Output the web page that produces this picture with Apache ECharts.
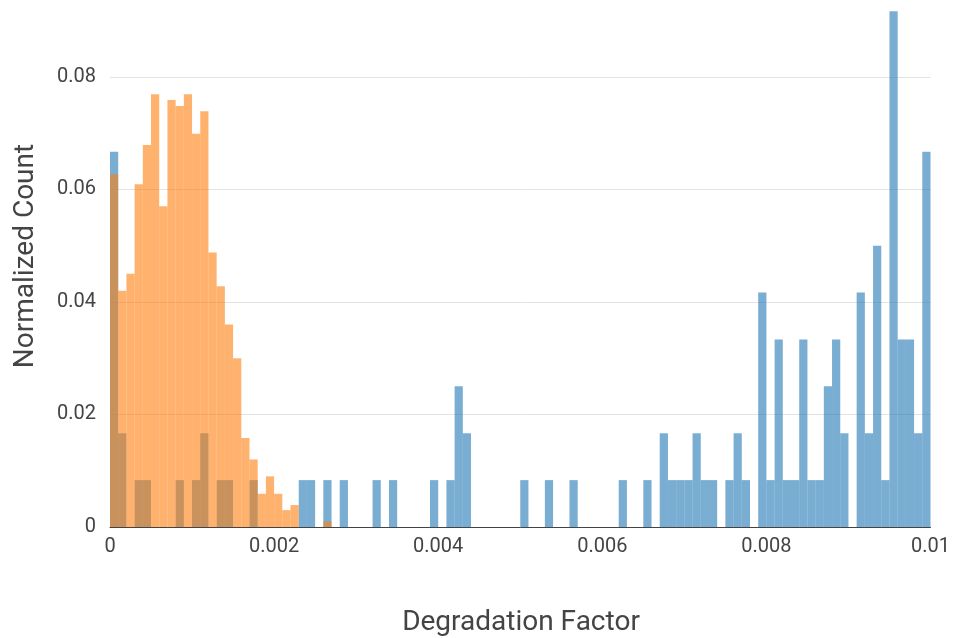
<!DOCTYPE html>
<html>
<head>
<meta charset="utf-8">
<script src="https://cdn.jsdelivr.net/npm/echarts@6/dist/echarts.min.js"></script>
<style>
html,body{margin:0;padding:0;background:#fff;}
#chart{width:953px;height:638px;}
</style>
</head>
<body>
<div id="chart"></div>
<script>
// Bin width 0.0001 over [0, 0.01] -> 100 bins
const binCount = 100;
const binStarts = Array.from({length: binCount}, (_, i) => (i * 0.0001).toFixed(4));

// Blue series (normalized counts per bin)
const blueValues = [
  0.06667, 0.01667, 0, 0.00833, 0.00833, 0, 0, 0, 0.00833, 0,
  0.00833, 0.01667, 0, 0.00833, 0.00833, 0, 0, 0.00833, 0, 0,
  0, 0, 0, 0.00833, 0.00833, 0, 0.00833, 0, 0.00833, 0,
  0, 0, 0.00833, 0, 0.00833, 0, 0, 0, 0, 0.00833,
  0, 0.00833, 0.025, 0.01667, 0, 0, 0, 0, 0, 0,
  0.00833, 0, 0, 0.00833, 0, 0, 0.00833, 0, 0, 0,
  0, 0, 0.00833, 0, 0, 0.00833, 0, 0.01667, 0.00833, 0.00833,
  0.00833, 0.01667, 0.00833, 0.00833, 0, 0.00833, 0.01667, 0.00833, 0, 0.04167,
  0.00833, 0.03333, 0.00833, 0.00833, 0.03333, 0.00833, 0.00833, 0.025, 0.03333, 0.01667,
  0, 0.04167, 0.01667, 0.05, 0.00833, 0.09167, 0.03333, 0.03333, 0.01667, 0.06667
];

// Orange series (normalized counts per bin)
const orangeValues = [
  0.0627, 0.0420, 0.0450, 0.0609, 0.0679, 0.0769, 0.0570, 0.0759, 0.0748, 0.0769,
  0.0699, 0.0739, 0.0488, 0.0428, 0.0360, 0.0300, 0.0158, 0.0120, 0.0059, 0.0090,
  0.0059, 0.0030, 0.0039, 0, 0, 0, 0.0010, 0, 0, 0,
  0, 0, 0, 0, 0, 0, 0, 0, 0, 0,
  0, 0, 0, 0, 0, 0, 0, 0, 0, 0,
  0, 0, 0, 0, 0, 0, 0, 0, 0, 0,
  0, 0, 0, 0, 0, 0, 0, 0, 0, 0,
  0, 0, 0, 0, 0, 0, 0, 0, 0, 0,
  0, 0, 0, 0, 0, 0, 0, 0, 0, 0,
  0, 0, 0, 0, 0, 0, 0, 0, 0, 0
];

const xTickLabels = ['0', '0.002', '0.004', '0.006', '0.008', '0.01'];
const yTickLabels = ['0', '0.02', '0.04', '0.06', '0.08'];

const textColor = '#444';
const fontFamily = 'Roboto, "Noto Sans", sans-serif';

const chart = echarts.init(document.getElementById('chart'), null, {renderer: 'canvas'});
chart.setOption({
  animation: false,
  backgroundColor: '#fff',
  grid: {left: 110, right: 21, top: 11, bottom: 111, containLabel: false},
  xAxis: [
    {
      type: 'category',
      data: binStarts,
      show: false,
      boundaryGap: true
    },
    {
      type: 'value',
      min: 0, max: 0.01, interval: 0.002,
      position: 'bottom',
      axisLine: {show: true, lineStyle: {color: '#444', width: 1}},
      axisTick: {show: false},
      splitLine: {show: false},
      axisLabel: {
        color: textColor, fontSize: 20, fontFamily: fontFamily, margin: 10,
        formatter: (v) => xTickLabels[Math.round(v / 0.002)]
      }
    }
  ],
  yAxis: {
    type: 'value',
    min: 0, max: 0.0917, interval: 0.02,
    axisLine: {show: false},
    axisTick: {show: false},
    splitLine: {show: true, showMinLine: false, showMaxLine: false, lineStyle: {color: '#e3e3e3', width: 1}},
    axisLabel: {
      color: textColor, fontSize: 20, fontFamily: fontFamily, margin: 14,
      showMaxLabel: false,
      formatter: (v) => {
        const i = Math.round(v / 0.02);
        return Math.abs(v - i * 0.02) < 1e-9 ? yTickLabels[i] : '';
      }
    }
  },
  graphic: [
    {
      type: 'text',
      x: 521, y: 609,
      style: {text: 'Degradation Factor', fill: textColor, fontSize: 28, fontFamily: fontFamily, align: 'center', verticalAlign: 'top'}
    },
    {
      type: 'text',
      x: 12, y: 256,
      rotation: Math.PI / 2,
      style: {text: 'Normalized Count', fill: textColor, fontSize: 28, fontFamily: fontFamily, align: 'center', verticalAlign: 'top'}
    }
  ],
  series: [
    {
      name: 'blue',
      type: 'bar',
      xAxisIndex: 0,
      data: blueValues,
      barWidth: '100%',
      barGap: '-100%',
      itemStyle: {color: 'rgba(31,119,180,0.6)'}
    },
    {
      name: 'orange',
      type: 'bar',
      xAxisIndex: 0,
      data: orangeValues,
      barWidth: '100%',
      barGap: '-100%',
      itemStyle: {color: 'rgba(255,127,14,0.6)'}
    }
  ]
});
</script>
</body>
</html>
